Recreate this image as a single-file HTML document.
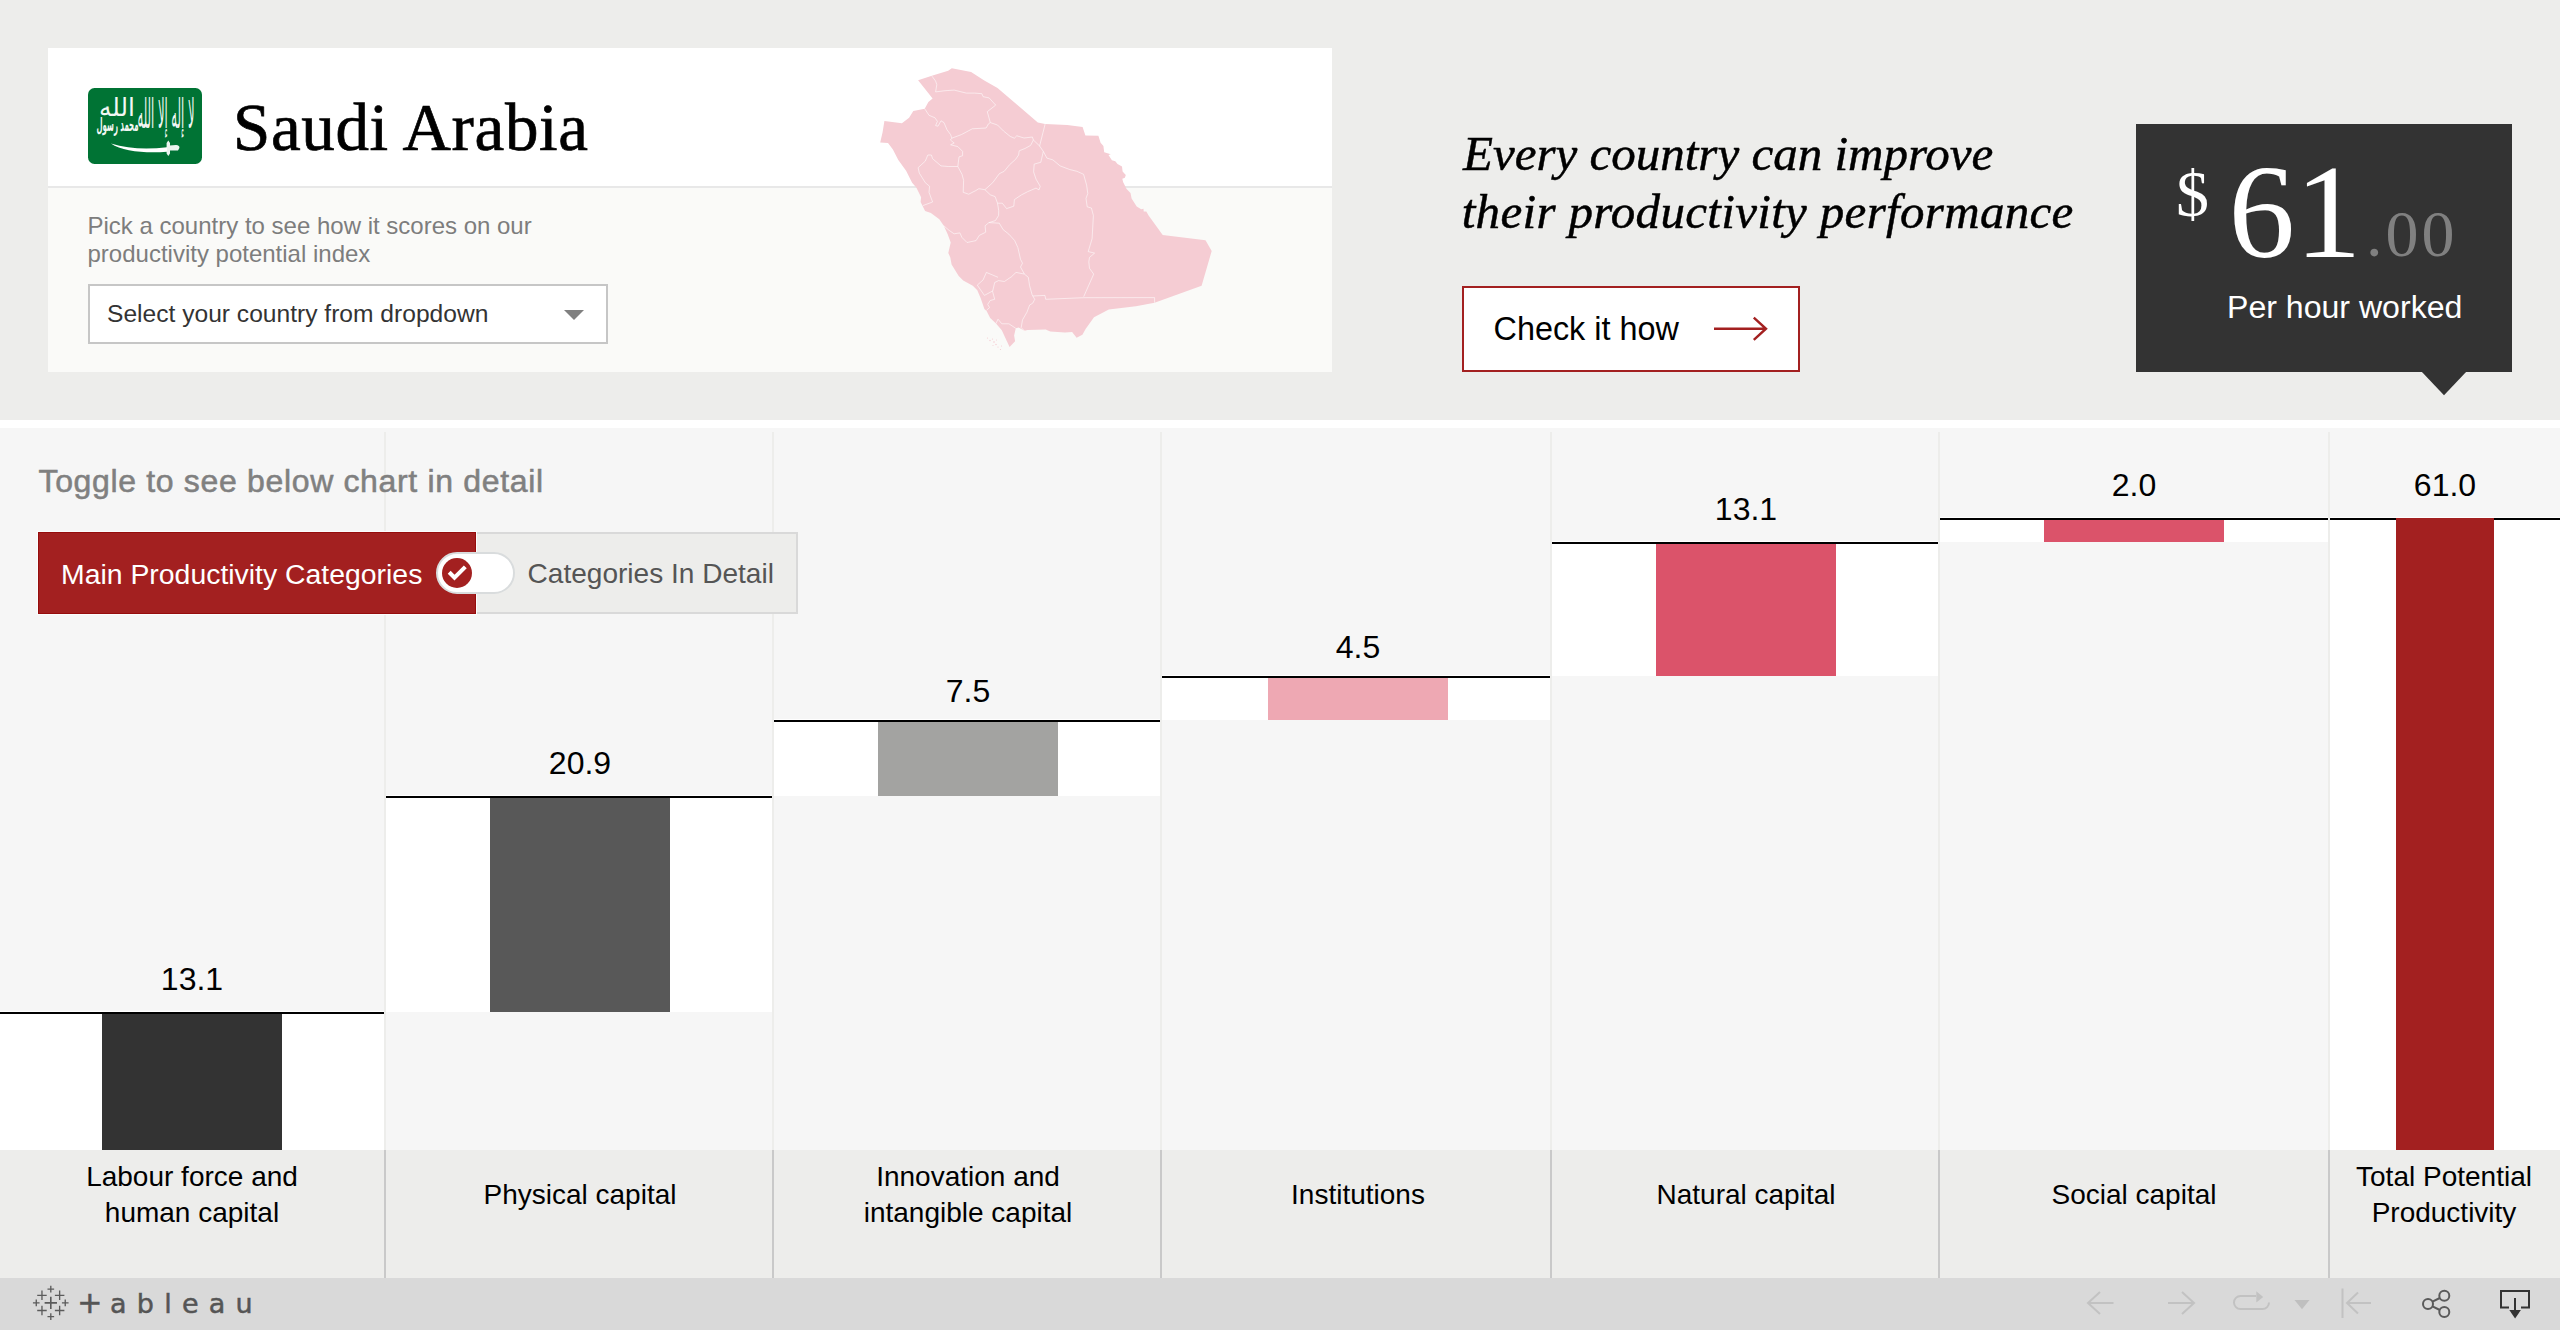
<!DOCTYPE html>
<html lang="en"><head><meta charset="utf-8"><title>Productivity potential index - Saudi Arabia</title>
<style>
html,body{margin:0;padding:0;background:#F5F5F5;}
body{width:2560px;height:1330px;position:relative;overflow:hidden;}
.b{position:absolute;display:block;}
.t{position:absolute;white-space:nowrap;margin:0;padding:0;}
</style></head>
<body>
<div class="b" style="left:0px;top:0px;width:2560px;height:420px;background:#EDEDEB;"></div>
<div class="b" style="left:48px;top:48px;width:1284px;height:324px;background:#FAFAF8;"></div>
<div class="b" style="left:48px;top:48px;width:1284px;height:138px;background:#FFFFFF;"></div>
<div class="b" style="left:48px;top:186px;width:1284px;height:2px;background:#E8E8E8;"></div>
<svg class="b" style="left:88px;top:88px" width="114" height="76" viewBox="0 0 114 76">
<rect width="114" height="76" rx="6.5" ry="6.5" fill="#007334"/>
<g fill="#fff" font-family="'DejaVu Sans', sans-serif" text-anchor="middle" opacity="0.95">
<text x="0" y="0" font-size="11" transform="translate(78,39.5) scale(1,3.72)" textLength="57" lengthAdjust="spacingAndGlyphs">لا إله إلا الله</text>
<text x="0" y="0" font-size="11" font-weight="bold" transform="translate(29.5,43) scale(1,1.7)" textLength="42" lengthAdjust="spacingAndGlyphs">محمد رسول</text>
<text x="0" y="0" font-size="11" transform="translate(29,27.5) scale(1,2.3)" textLength="36" lengthAdjust="spacingAndGlyphs">الله</text>
</g>
<path d="M23 55.5 C34 63.5 58 65.5 79 63.8 L79 59.2 C60 61.5 40 61 23 55.5Z" fill="#fff"/>
<path d="M80.3 52.4L82 55V65.4L80.3 68L78.6 65.4V55Z M81.5 57.4L88 57Q91.9 57.3 91.4 60L90 62.6L81.5 62.4Z" fill="#fff" opacity="0.92"/>
</svg>
<div class="t" style="top:86.89px;font-family:'Liberation Serif', serif;font-size:67px;line-height:80px;color:#000;left:233.00px;letter-spacing:0.65px;-webkit-text-stroke:0.7px #000;">Saudi Arabia</div>
<div class="t" style="top:211.68px;font-family:'Liberation Sans', sans-serif;font-size:24px;line-height:28px;color:#7D7D7D;left:87.50px;">Pick a country to see how it scores on our<br>productivity potential index</div>
<div class="b" style="left:88px;top:284px;width:520px;height:60px;background:#fff;border:2px solid #C6C6C6;box-sizing:border-box;"></div>
<div class="t" style="top:299.48px;font-family:'Liberation Sans', sans-serif;font-size:24.6px;line-height:30px;color:#333;left:107.00px;">Select your country from dropdown</div>
<svg class="b" style="left:564px;top:310px" width="20" height="10"><path d="M0 0H20L10 10Z" fill="#808080"/></svg>
<svg class="b" style="left:870px;top:60px" width="360" height="300" viewBox="0 0 360 300">
<path d="M81.8 8.2 L101.1 12.0 L114.3 20.5 L127.5 27.9 L167.8 62.6 L175.1 64.1 L197.3 64.9 L212.6 66.9 L215.4 75.4 L228.4 75.7 L230.6 82.7 L233.4 86.1 L234.2 92.3 L240.8 94.2 L238.5 95.1 L241.9 100.2 L245.3 101.3 L247.5 104.1 L252.0 106.4 L252.6 111.5 L255.8 114.9 L254.9 117.7 L252.3 118.8 L253.2 122.2 L256.6 129.0 L260.5 132.9 L261.6 138.6 L266.7 146.4 L271.2 149.3 L273.5 148.7 L273.7 151.5 L276.3 151.5 L278.6 155.5 L292.7 175.0 L335.5 180.3 L341.7 191.0 L331.6 225.7 L284.6 242.7 L265.9 246.3 L238.8 249.6 L224.0 257.3 L215.6 268.9 L212.4 274.7 L206.6 277.7 L202.1 272.1 L195.0 272.5 L180.2 271.5 L175.7 269.6 L157.6 269.9 L154.4 270.8 L148.6 267.6 L145.8 268.3 L144.1 275.4 L145.1 281.2 L139.6 287.0 L136.3 279.9 L131.8 270.2 L126.0 263.5 L120.2 257.9 L116.6 250.9 L114.4 248.9 L110.6 238.0 L107.3 230.2 L102.8 225.7 L93.2 220.6 L88.7 216.1 L81.6 204.5 L80.3 197.4 L78.3 192.9 L80.7 182.5 L77.7 174.2 L73.8 165.8 L69.3 159.3 L60.9 152.9 L55.1 151.0 L50.6 141.9 L51.1 137.2 L46.3 127.5 L42.1 122.7 L36.1 110.7 L28.3 99.9 L22.9 89.6 L18.0 83.0 L10.2 82.4 L12.6 72.2 L14.4 61.1 L31.9 63.2 L39.1 57.8 L43.3 51.1 L54.7 48.7 L58.4 42.1 L62.6 38.5 L48.1 20.2 L62.6 15.6 L78.2 10.8Z" fill="#F5CCD3"/>
<path d="M62.0 16.2 L65.6 21.1 L66.8 24.7 L65.6 31.9 L75.2 30.7 L84.2 30.1 L96.3 33.1 L104.7 33.1 L111.9 33.7 L113.1 36.7 L119.1 37.9 L125.7 45.1 L117.3 51.7 L120.3 62.6 M120.3 62.6 L127.5 65.0 L133.5 71.0 L140.2 76.4 L144.4 78.2 L146.8 75.8 L154.0 78.0 L162.4 77.0 L163.4 80.0 L169.6 86.0 L175.1 64.1 M54.7 48.7 L59.0 55.3 L65.0 57.8 L67.4 61.4 L65.6 65.6 L68.0 66.2 L71.0 60.8 L74.0 62.6 L77.0 69.8 L80.6 74.6 L81.8 78.2 M81.8 78.2 L91.4 74.6 L102.3 68.8 L116.1 68.0 L118.5 63.8 L120.3 62.6 M81.8 78.2 L80.4 80.0 L84.2 83.0 L80.6 84.8 L87.8 86.6 L92.6 91.4 L92.6 95.7 L89.0 96.9 L87.8 106.5 M87.8 106.5 L78.2 106.5 L71.0 105.9 L62.6 98.7 L61.4 95.0 L57.8 95.0 L55.3 101.1 L48.1 107.7 L49.3 113.1 L55.3 122.7 L59.6 126.3 L59.0 132.3 L62.6 142.0 L52.9 145.6 M87.8 106.5 L92.0 114.3 L93.6 120.3 L93.2 132.3 L98.7 134.2 L105.9 130.5 L108.9 128.7 L114.9 129.7 M114.9 129.7 L122.7 122.7 L129.3 113.7 L134.2 111.3 L139.6 104.7 L145.6 99.3 L148.6 95.0 L149.2 90.8 L155.2 88.4 L160.6 85.4 L163.4 80.0 M114.9 129.7 L120.3 134.8 L125.1 136.6 L127.5 143.2 L128.7 150.4 L128.6 155.5 L125.4 160.6 L118.9 162.6 M127.5 143.2 L132.3 143.2 L136.6 148.6 L143.8 146.2 L144.4 139.6 L151.6 134.8 L157.6 131.7 L166.0 128.1 L169.0 129.9 L170.2 126.3 L166.0 119.1 L163.6 111.9 L164.2 104.1 L170.8 102.3 L173.3 91.4 L169.6 86.0 M173.3 91.4 L176.9 98.1 L182.9 99.9 L190.1 105.9 L199.7 109.5 L206.9 111.3 L213.6 114.3 L216.6 125.1 L217.8 133.5 L216.0 138.4 L217.2 146.8 L221.4 148.0 L223.4 155.5 L222.1 178.7 L218.2 191.6 L224.6 193.1 L219.5 197.4 L218.8 201.9 L219.5 208.3 L223.7 214.1 L213.7 236.7 M175.7 239.3 L213.7 237.7 L284.6 237.6 L284.6 242.7 M162.8 236.0 L175.0 235.4 L175.7 239.3 M73.8 165.8 L79.0 170.3 L84.1 173.8 L89.9 172.9 L91.9 177.4 L97.0 182.5 L106.1 180.6 L109.3 175.4 L115.7 172.2 L115.1 165.8 L118.9 162.6 M118.9 162.6 L129.3 163.2 L133.1 169.6 L138.9 174.2 L144.7 180.6 L147.9 187.7 L150.5 199.3 L152.5 203.2 L150.5 207.0 L154.4 214.1 L158.3 217.3 L159.6 225.7 L162.1 234.7 L162.8 236.0 L164.7 239.3 L162.8 243.1 L159.6 245.1 L157.0 252.1 L152.5 259.9 L151.2 267.6 L154.4 270.8 M154.4 214.1 L146.0 212.4 L141.5 216.7 L134.4 221.5 L128.6 220.6 L124.7 222.5 L122.6 231.5 L124.7 239.3 L120.2 240.5 L117.7 244.4 L119.6 247.6 L116.6 250.2 M128.0 217.3 L116.4 212.4 L113.1 219.9 L107.3 225.1 L114.4 235.4 L122.8 230.9 M126.0 263.5 L128.0 259.2 L131.8 263.8 L138.9 263.8 L145.8 268.3" fill="none" stroke="#fff" stroke-opacity="0.7" stroke-width="0.8" stroke-linejoin="round"/>
<g fill="#F5CCD3"><circle cx="117.5" cy="278.0" r="0.6"/><circle cx="120.0" cy="280.5" r="0.7"/><circle cx="122.5" cy="279.0" r="0.6"/><circle cx="124.0" cy="282.0" r="0.8"/><circle cx="126.0" cy="284.5" r="0.7"/><circle cx="123.0" cy="285.5" r="0.5"/><circle cx="128.0" cy="287.0" r="0.6"/><circle cx="130.5" cy="289.5" r="0.6"/><circle cx="131.5" cy="286.0" r="0.5"/><circle cx="126.5" cy="280.0" r="0.5"/></g>
</svg>
<div class="t" style="top:125.06px;font-family:'Liberation Serif', serif;font-size:49px;line-height:58px;color:#000;left:1463.00px;font-style:italic;-webkit-text-stroke:0.5px #000;">Every country can improve</div>
<div class="t" style="top:183.06px;font-family:'Liberation Serif', serif;font-size:49px;line-height:58px;color:#000;left:1461.70px;font-style:italic;letter-spacing:0.32px;-webkit-text-stroke:0.5px #000;">their productivity performance</div>
<div class="b" style="left:1462px;top:286px;width:338px;height:86px;background:#fff;border:2px solid #A32020;box-sizing:border-box;"></div>
<div class="t" style="top:309.47px;font-family:'Liberation Sans', sans-serif;font-size:32.4px;line-height:40px;color:#000;left:1493.50px;">Check it how</div>
<svg class="b" style="left:1710px;top:314px" width="64" height="30" viewBox="0 0 64 30"><path d="M4 14.75H56 M43.8 3.7L56 14.75L43.8 25.8" fill="none" stroke="#A32020" stroke-width="2.4"/></svg>
<div class="b" style="left:2136px;top:124px;width:376px;height:248px;background:#333333;"></div>
<svg class="b" style="left:2421px;top:371px" width="46" height="26"><path d="M0 0H46L23 24.3Z" fill="#333333"/></svg>
<div class="t" style="top:158.72px;font-family:'Liberation Serif', serif;font-size:66px;line-height:70px;color:#fff;left:2176.00px;">$</div>
<div class="t" style="top:141.71px;font-family:'Liberation Serif', serif;font-size:133px;line-height:140px;color:#fff;left:2228.50px;">61</div>
<div class="t" style="top:199.33px;font-family:'Liberation Serif', serif;font-size:66px;line-height:70px;color:#808080;left:2366.00px;letter-spacing:3px;">.00</div>
<div class="t" style="top:286.88px;font-family:'Liberation Sans', sans-serif;font-size:32.1px;line-height:40px;color:#fff;left:2227.00px;">Per hour worked</div>
<div class="b" style="left:0px;top:420px;width:2560px;height:8px;background:#fff;"></div>
<div class="b" style="left:0px;top:428px;width:2560px;height:722px;background:#F6F6F6;"></div>
<div class="b" style="left:0px;top:1150px;width:2560px;height:128px;background:#EDEDEB;"></div>
<div class="b" style="left:0px;top:1278px;width:2560px;height:52px;background:#D9D9D9;"></div>
<div class="b" style="left:384px;top:432px;width:2px;height:718px;background:#EDEDEB;"></div>
<div class="b" style="left:384px;top:1150px;width:2px;height:128px;background:#C9C9C9;"></div>
<div class="b" style="left:772px;top:432px;width:2px;height:718px;background:#EDEDEB;"></div>
<div class="b" style="left:772px;top:1150px;width:2px;height:128px;background:#C9C9C9;"></div>
<div class="b" style="left:1160px;top:432px;width:2px;height:718px;background:#EDEDEB;"></div>
<div class="b" style="left:1160px;top:1150px;width:2px;height:128px;background:#C9C9C9;"></div>
<div class="b" style="left:1550px;top:432px;width:2px;height:718px;background:#EDEDEB;"></div>
<div class="b" style="left:1550px;top:1150px;width:2px;height:128px;background:#C9C9C9;"></div>
<div class="b" style="left:1938px;top:432px;width:2px;height:718px;background:#EDEDEB;"></div>
<div class="b" style="left:1938px;top:1150px;width:2px;height:128px;background:#C9C9C9;"></div>
<div class="b" style="left:2328px;top:432px;width:2px;height:718px;background:#EDEDEB;"></div>
<div class="b" style="left:2328px;top:1150px;width:2px;height:128px;background:#C9C9C9;"></div>
<div class="b" style="left:0px;top:1011px;width:384px;height:139px;background:#fff;"></div>
<div class="b" style="left:0px;top:1012px;width:384px;height:2px;background:#000;"></div>
<div class="b" style="left:102px;top:1014px;width:180px;height:136px;background:#333333;"></div>
<div class="t" style="top:958.91px;font-family:'Liberation Sans', sans-serif;font-size:32px;line-height:40px;color:#000;left:-408.00px;width:1200px;text-align:center;">13.1</div>
<div class="t" style="top:1159.10px;font-family:'Liberation Sans', sans-serif;font-size:28px;line-height:36px;color:#000;left:-408.00px;width:1200px;text-align:center;">Labour force and<br>human capital</div>
<div class="b" style="left:386px;top:795px;width:386px;height:217px;background:#fff;"></div>
<div class="b" style="left:386px;top:796px;width:386px;height:2px;background:#000;"></div>
<div class="b" style="left:490px;top:798px;width:180px;height:214px;background:#585858;"></div>
<div class="t" style="top:742.91px;font-family:'Liberation Sans', sans-serif;font-size:32px;line-height:40px;color:#000;left:-20.00px;width:1200px;text-align:center;">20.9</div>
<div class="t" style="top:1177.10px;font-family:'Liberation Sans', sans-serif;font-size:28px;line-height:36px;color:#000;left:-20.00px;width:1200px;text-align:center;">Physical capital</div>
<div class="b" style="left:774px;top:719px;width:386px;height:77px;background:#fff;"></div>
<div class="b" style="left:774px;top:720px;width:386px;height:2px;background:#000;"></div>
<div class="b" style="left:878px;top:722px;width:180px;height:74px;background:#A3A3A1;"></div>
<div class="t" style="top:670.91px;font-family:'Liberation Sans', sans-serif;font-size:32px;line-height:40px;color:#000;left:368.00px;width:1200px;text-align:center;">7.5</div>
<div class="t" style="top:1159.10px;font-family:'Liberation Sans', sans-serif;font-size:28px;line-height:36px;color:#000;left:368.00px;width:1200px;text-align:center;">Innovation and<br>intangible capital</div>
<div class="b" style="left:1162px;top:675px;width:388px;height:45px;background:#fff;"></div>
<div class="b" style="left:1162px;top:676px;width:388px;height:2px;background:#000;"></div>
<div class="b" style="left:1268px;top:678px;width:180px;height:42px;background:#EEA8B3;"></div>
<div class="t" style="top:626.91px;font-family:'Liberation Sans', sans-serif;font-size:32px;line-height:40px;color:#000;left:758.00px;width:1200px;text-align:center;">4.5</div>
<div class="t" style="top:1177.10px;font-family:'Liberation Sans', sans-serif;font-size:28px;line-height:36px;color:#000;left:758.00px;width:1200px;text-align:center;">Institutions</div>
<div class="b" style="left:1552px;top:541px;width:386px;height:135px;background:#fff;"></div>
<div class="b" style="left:1552px;top:542px;width:386px;height:2px;background:#000;"></div>
<div class="b" style="left:1656px;top:544px;width:180px;height:132px;background:#DB536A;"></div>
<div class="t" style="top:488.91px;font-family:'Liberation Sans', sans-serif;font-size:32px;line-height:40px;color:#000;left:1146.00px;width:1200px;text-align:center;">13.1</div>
<div class="t" style="top:1177.10px;font-family:'Liberation Sans', sans-serif;font-size:28px;line-height:36px;color:#000;left:1146.00px;width:1200px;text-align:center;">Natural capital</div>
<div class="b" style="left:1940px;top:517px;width:388px;height:25px;background:#fff;"></div>
<div class="b" style="left:1940px;top:518px;width:388px;height:2px;background:#000;"></div>
<div class="b" style="left:2044px;top:520px;width:180px;height:22px;background:#DB536A;"></div>
<div class="t" style="top:464.91px;font-family:'Liberation Sans', sans-serif;font-size:32px;line-height:40px;color:#000;left:1534.00px;width:1200px;text-align:center;">2.0</div>
<div class="t" style="top:1177.10px;font-family:'Liberation Sans', sans-serif;font-size:28px;line-height:36px;color:#000;left:1534.00px;width:1200px;text-align:center;">Social capital</div>
<div class="b" style="left:2330px;top:517px;width:230px;height:633px;background:#fff;"></div>
<div class="b" style="left:2330px;top:518px;width:230px;height:2px;background:#000;"></div>
<div class="b" style="left:2396px;top:518px;width:98px;height:632px;background:#A32020;"></div>
<div class="t" style="top:464.91px;font-family:'Liberation Sans', sans-serif;font-size:32px;line-height:40px;color:#000;left:1845.00px;width:1200px;text-align:center;">61.0</div>
<div class="t" style="top:1159.10px;font-family:'Liberation Sans', sans-serif;font-size:28px;line-height:36px;color:#000;left:1844.00px;width:1200px;text-align:center;">Total Potential<br>Productivity</div>
<div class="t" style="top:460.91px;font-family:'Liberation Sans', sans-serif;font-size:32px;line-height:40px;color:#808080;left:38.50px;-webkit-text-stroke:0.55px #808080;letter-spacing:0.66px;">Toggle to see below chart in detail</div>
<div class="b" style="left:476px;top:532px;width:322px;height:82px;background:#EDEDEB;border:2px solid #D9D9D9;border-left:none;box-sizing:border-box;"></div>
<div class="b" style="left:37px;top:531px;width:440px;height:84px;background:#FBFDFD;"></div>
<div class="b" style="left:38px;top:532px;width:438px;height:82px;background:#960C0C;"></div>
<div class="b" style="left:39px;top:533px;width:436px;height:80px;background:#A32020;"></div>
<div class="t" style="top:555.76px;font-family:'Liberation Sans', sans-serif;font-size:28.4px;line-height:36px;color:#fff;left:61.00px;">Main Productivity Categories</div>
<div class="t" style="top:555.88px;font-family:'Liberation Sans', sans-serif;font-size:28.05px;line-height:36px;color:#555;left:527.60px;">Categories In Detail</div>
<div class="b" style="left:436px;top:552px;width:79px;height:42px;background:#fff;border:2px solid #D9DCDD;box-sizing:border-box;border-radius:21px;"></div>
<svg class="b" style="left:442px;top:558px" width="30" height="30" viewBox="0 0 30 30"><circle cx="15" cy="15" r="15" fill="#A32020"/><path d="M7.2 14.2L12.5 19.6L23.3 8.9" fill="none" stroke="#fff" stroke-width="4.1"/></svg>
<svg class="b" style="left:30px;top:1282px" width="44" height="44" viewBox="0 0 44 44">
<g stroke="#5B5B5B" stroke-width="1.4" fill="none" transform="translate(20.8 20.9) scale(0.95) translate(-20.8 -20.5)">
<path d="M20.8 14V27M14.3 20.5H27.3" stroke-width="1.7"/>
<path d="M11.5 7.5V17.5M6.5 12.5H16.5"/><path d="M30.1 7.5V17.5M25.1 12.5H35.1"/>
<path d="M11.5 23.5V33.5M6.5 28.5H16.5"/><path d="M30.1 23.5V33.5M25.1 28.5H35.1"/>
<path d="M20.8 2.5V9.5M17.3 6H24.3"/><path d="M20.8 31.5V38.5M17.3 35H24.3"/>
<path d="M5.5 17V24M2 20.5H9"/><path d="M36 17V24M32.5 20.5H39.5"/>
</g></svg>
<div class="t" style="top:1285.90px;font-family:'Liberation Sans', sans-serif;font-size:30px;line-height:34px;color:#555;left:77.30px;font-family:'DejaVu Sans','Liberation Sans',sans-serif;-webkit-text-stroke:0.6px #555;">+</div>
<div class="t" style="top:1286.94px;font-family:'Liberation Sans', sans-serif;font-size:27px;line-height:34px;color:#555;left:110.10px;font-family:'DejaVu Sans','Liberation Sans',sans-serif;letter-spacing:10.2px;-webkit-text-stroke:0.5px #555;">ableau</div>
<svg class="b" style="left:2070px;top:1280px" width="490" height="50" viewBox="0 0 490 50">
<g fill="none" stroke="#C2C2C2" stroke-width="2">
<path d="M43.5 23H18 M30 12L18 23L30 34"/>
<path d="M98 23H124 M112 12L124 23L112 34"/>
<path d="M186 16H170.5A6.5 6.5 0 0 0 170.5 29H192.5A6.5 6.5 0 0 0 199 22.5"/>
<path d="M272.5 8.5V38 M301 23H277 M288 12.5L277 23L288 33.5"/>
</g>
<path d="M186.3 11.3V22.5L193.2 17Z" fill="#C2C2C2"/>
<path d="M224.5 20H239.5L232 29.3Z" fill="#BFBFBF"/>
<g fill="none" stroke="#5A5A5A" stroke-width="2"><circle cx="358" cy="24" r="5"/><circle cx="374.3" cy="15.7" r="5"/><circle cx="374.3" cy="32.1" r="5"/><path d="M362.5 21.7L369.8 18 M362.5 26.3L369.8 30"/></g>
<g fill="none" stroke="#333" stroke-width="2"><path d="M439 27.5H431V11H459V27.5H451"/><path d="M445 18V31"/></g>
<path d="M439.3 30H450.9L445.1 38.6Z" fill="#333"/>
</svg>
</body></html>
